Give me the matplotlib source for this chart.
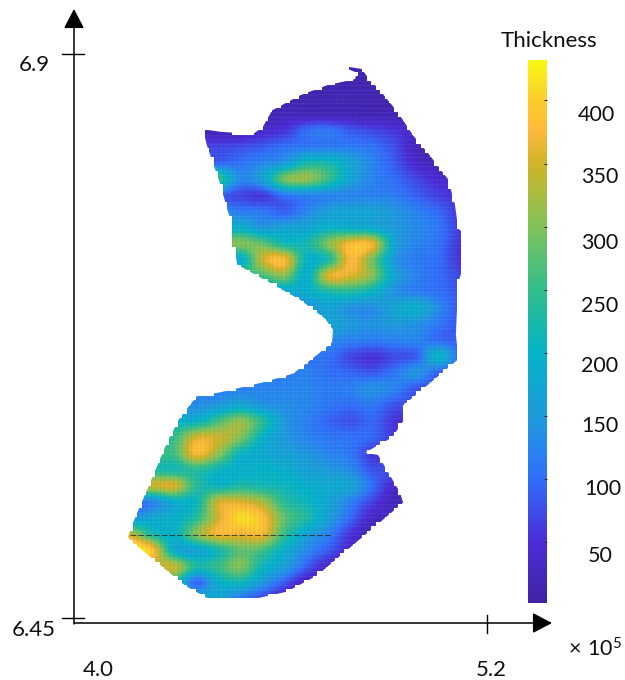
import numpy as np
import matplotlib
matplotlib.use("Agg")
import matplotlib.pyplot as plt
from matplotlib.colors import LinearSegmentedColormap
from matplotlib.patches import Polygon
from matplotlib.path import Path

plt.rcParams['font.family'] = ['Lato', 'DejaVu Sans']
plt.rcParams['mathtext.default'] = 'regular'

# thickness on a regular grid, rows north to south, cols west to east
grid_x = np.linspace(4.10, 5.12, 16)
grid_y = np.linspace(6.89, 6.465, 34)
thickness = np.array([
 [15,15,15,15,15,15,15,15,15,15,15,15,15,15,15,15],
 [15,15,15,15,15,15,15,15,15,15,15,15,15,15,15,15],
 [15,15,15,15,15,15,15,15,18,18,18,15,15,15,15,15],
 [20,20,20,20,20,20,20,25,25,25,22,20,20,18,15,15],
 [22,22,22,22,22,20,40,55,100,110,85,70,55,30,18,15],
 [70,70,70,70,70,75,85,105,110,115,115,105,75,25,15,15],
 [95,95,95,95,95,105,125,150,220,220,170,125,85,40,25,25],
 [250,250,250,250,250,130,165,290,310,250,170,125,100,70,45,40],
 [90,90,90,90,90,70,60,110,125,125,125,120,115,90,65,50],
 [130,130,130,130,130,115,110,90,125,160,170,165,145,120,95,55],
 [170,170,170,170,170,190,150,170,170,200,190,180,150,130,110,60],
 [300,300,300,300,300,300,280,220,220,300,375,365,170,125,105,55],
 [180,180,180,180,180,180,340,375,200,230,375,290,150,115,100,55],
 [260,260,260,260,260,260,260,300,190,355,355,300,170,120,100,70],
 [170,170,170,170,170,170,170,170,190,220,230,200,140,120,105,80],
 [140,140,140,140,140,140,140,140,140,170,140,135,170,190,130,80],
 [170,170,170,170,170,170,170,170,170,170,150,140,150,140,110,80],
 [130,130,130,130,130,130,130,130,130,130,120,115,120,125,100,85],
 [105,105,105,105,105,105,105,105,105,105,70,55,75,90,200,90],
 [115,115,115,115,115,115,115,115,120,105,95,85,110,145,90,90],
 [120,120,120,120,120,120,125,125,125,115,120,140,120,80,80,80],
 [135,135,135,135,150,175,145,135,125,110,100,110,80,80,80,80],
 [200,200,200,200,260,310,240,150,120,95,80,95,55,55,55,55],
 [250,250,250,350,345,300,200,150,125,110,105,95,60,60,60,60],
 [260,260,260,375,310,210,180,165,145,125,110,60,60,60,60,60],
 [230,230,220,240,210,190,200,190,165,150,130,80,80,80,80,80],
 [340,340,350,240,210,230,220,210,190,180,170,100,40,40,40,40],
 [100,125,190,210,345,355,325,240,210,170,120,65,25,25,25,25],
 [140,180,190,240,350,410,385,280,230,160,95,35,35,35,35,35],
 [340,230,200,300,370,365,370,250,170,120,55,20,20,20,20,20],
 [440,390,190,170,220,280,260,190,130,85,40,20,20,20,20,20],
 [320,320,340,230,250,300,210,160,90,35,35,35,35,35,35,35],
 [240,240,240,95,190,210,150,85,30,30,30,30,30,30,30,30],
 [200,200,200,200,170,110,70,30,30,30,30,30,30,30,30,30],
], dtype=float)

# surveyed outline of the region
outline_x = [4.743,4.814,4.833,4.870,4.926,4.972,5.018,5.080,5.101,5.111,5.126,5.126,5.111,5.104,
             5.108,5.114,4.953,4.944,4.944,4.907,4.824,4.864,4.932,4.941,4.676,4.583,4.478,4.336,
             4.268,4.099,4.093,4.108,4.151,4.213,4.253,4.305,4.376,4.509,4.602,4.676,4.722,4.725,
             4.700,4.623,4.561,4.429,4.423,4.413,4.413,4.401,4.376,4.336,4.324,4.376,4.478,4.509,
             4.537,4.623,4.706,4.793,4.799]
outline_y = [6.891,6.888,6.881,6.871,6.853,6.835,6.821,6.800,6.780,6.761,6.757,6.729,6.718,6.676,
             6.666,6.657,6.622,6.621,6.608,6.594,6.582,6.580,6.550,6.542,6.484,6.471,6.465,6.466,
             6.476,6.512,6.515,6.526,6.552,6.590,6.610,6.627,6.630,6.638,6.645,6.660,6.670,6.680,
             6.689,6.704,6.713,6.732,6.744,6.745,6.766,6.774,6.797,6.827,6.840,6.838,6.836,6.842,
             6.855,6.867,6.875,6.880,6.885]

bar_ticks = [50, 100, 150, 200, 250, 300, 350, 400]
bar_labels = ['50', '100', '150', '200', '250', '300', '350', '400']
v_min, v_max = 2, 432
x_tick_values = [4.0, 5.2]
x_tick_labels = ['4.0', '5.2']
y_tick_values = [6.9, 6.45]
y_tick_labels = ['6.9', '6.45']

# colour ramp sampled from the reference bar
ramp_values = [2, 50, 100, 125, 150, 200, 250, 300, 350, 375, 400, 432]
ramp_rgb = [(65,35,165),(75,45,215),(50,110,250),(40,135,240),(30,155,220),(5,180,200),
            (50,190,140),(130,195,90),(210,180,40),(253,185,60),(252,205,45),(248,250,20)]
cmap = LinearSegmentedColormap.from_list(
    'thick', [((v - v_min) / (v_max - v_min), tuple(c / 255 for c in rgb))
              for v, rgb in zip(ramp_values, ramp_rgb)], N=512)

W, H = 625, 680
fig = plt.figure(figsize=(W / 100, H / 100), dpi=100, facecolor='white')

# data <-> pixel frame: x 4.0 at px 98, 5.2 at px 487; y 6.9 at px 54, 6.45 at px 618
sx = 1.2 / (487 - 98)
sy = 0.45 / (618 - 54)
ax = fig.add_axes([0, 0, 1, 1])
ax.set_xlim(4.0 - 98 * sx, 4.0 + (W - 98) * sx)
ax.set_ylim(6.9 - (H - 54) * sy, 6.9 + 54 * sy)
ax.axis('off')

dx = grid_x[1] - grid_x[0]
dy = grid_y[0] - grid_y[1]
extent = [grid_x[0] - dx / 2, grid_x[-1] + dx / 2, grid_y[-1] - dy / 2, grid_y[0] + dy / 2]
im = ax.imshow(thickness, cmap=cmap, vmin=v_min, vmax=v_max, extent=extent, origin='upper',
               interpolation='catrom', aspect='auto', zorder=1)
outline = Polygon(np.column_stack([outline_x, outline_y]), closed=True, transform=ax.transData,
                  fc='none', ec='none')
ax.add_patch(outline)
im.set_clip_path(outline)

# stair-stepped edge of the 4.5 px data cells
cell_w, cell_h = 4.5 * sx, 4.5 * sy
cx = np.arange(extent[0] - 10 * cell_w, extent[1] + 10 * cell_w, cell_w)
cy = np.arange(extent[2] - 10 * cell_h, extent[3] + 10 * cell_h, cell_h)
CX, CY = np.meshgrid(cx + cell_w / 2, cy + cell_h / 2)
inside = Path(np.column_stack([outline_x, outline_y])).contains_points(
    np.column_stack([CX.ravel(), CY.ravel()])).reshape(CX.shape)
rgba = np.ones(inside.shape + (4,))
rgba[..., 3] = (~inside).astype(float)
ax.imshow(rgba, extent=[cx[0], cx[-1] + cell_w, cy[0], cy[-1] + cell_h], origin='lower',
          interpolation='nearest', aspect='auto', zorder=3)

# faint cell texture
for xv in cx:
    ln = ax.axvline(xv, color='#101040', alpha=0.05, lw=0.8, zorder=2)
    ln.set_clip_path(outline)
for yv in cy:
    ln = ax.axhline(yv, color='white', alpha=0.05, lw=0.8, zorder=2)
    ln.set_clip_path(outline)

# dark seam across the south of the region
ax.plot([4.10, 4.72], [6.5165, 6.5165], color='#202020', lw=0.7, ls=(0, (6, 2)), alpha=0.75, zorder=4)

# axes with arrow heads
x0 = 4.0 - 24 * sx
y0 = 6.45 - 5 * sy
ax.annotate('', xy=(4.0 + (552 - 98) * sx, y0), xytext=(x0, y0), zorder=5,
            arrowprops=dict(arrowstyle='-|>,head_width=0.42,head_length=0.8', color='black', lw=1.1,
                            shrinkA=0, shrinkB=0, mutation_scale=15))
ax.annotate('', xy=(x0, 6.9 + 45 * sy), xytext=(x0, y0 - 1 * sy), zorder=5,
            arrowprops=dict(arrowstyle='-|>,head_width=0.42,head_length=0.8', color='black', lw=1.1,
                            shrinkA=0, shrinkB=0, mutation_scale=15))
for v in y_tick_values:
    ax.plot([x0 - 12 * sx, x0 + 10 * sx], [v, v], color='black', lw=1.0, zorder=5)
ax.plot([x_tick_values[1]] * 2, [y0 + 8 * sy, y0 - 10 * sy], color='black', lw=1.0, zorder=5)

FS = 16
for v, s in zip(y_tick_values, y_tick_labels):
    ax.annotate(s, (x0, v), xytext=(-40, -11 if v > 6.5 else -12), textcoords='offset pixels',
                ha='center', va='center', fontsize=FS, color='#111111')
ax.annotate(x_tick_labels[0], (x_tick_values[0], y0), xytext=(0, -47), textcoords='offset pixels',
            ha='center', va='center', fontsize=FS, color='#111111')
ax.annotate(x_tick_labels[1], (x_tick_values[1], y0), xytext=(4, -47), textcoords='offset pixels',
            ha='center', va='center', fontsize=FS, color='#111111')
ax.annotate(r'$\times\ 10^{5}$', (x_tick_values[1], y0), xytext=(108, -26), textcoords='offset pixels',
            ha='center', va='center', fontsize=FS - 0.5, color='#111111')

# colour bar
cax = fig.add_axes([528 / W, 1 - 603 / H, 19 / W, 543 / H])
gradient = np.linspace(v_max, v_min, 512).reshape(-1, 1)
cax.imshow(gradient, cmap=cmap, vmin=v_min, vmax=v_max, aspect='auto',
           extent=[0, 1, v_min, v_max], origin='upper')
cax.set_xticks([])
cax.set_yticks(bar_ticks)
cax.yaxis.tick_right()
cax.tick_params(axis='y', direction='in', length=2.5, width=0.8, color='#303030', labelright=False)
for sp in cax.spines.values():
    sp.set_visible(False)
label_dx = {50: 53, 100: 56, 150: 53, 200: 53, 250: 53, 300: 53, 350: 53, 400: 49}
label_dy = {50: -14, 100: -10, 150: -10, 200: -13, 250: -16, 300: -16, 350: -13, 400: -15}
for v, s in zip(bar_ticks, bar_labels):
    cax.annotate(s, (1, v), xytext=(label_dx[v], label_dy[v]), textcoords='offset pixels',
                 ha='center', va='center', fontsize=FS - 0.5, color='#111111', annotation_clip=False)
cax.annotate('Thickness', (0.5, v_max), xytext=(11.5, 19), textcoords='offset pixels',
             ha='center', va='center', fontsize=FS, color='#111111', annotation_clip=False)

fig.savefig('out.png', dpi=100, facecolor='white')
